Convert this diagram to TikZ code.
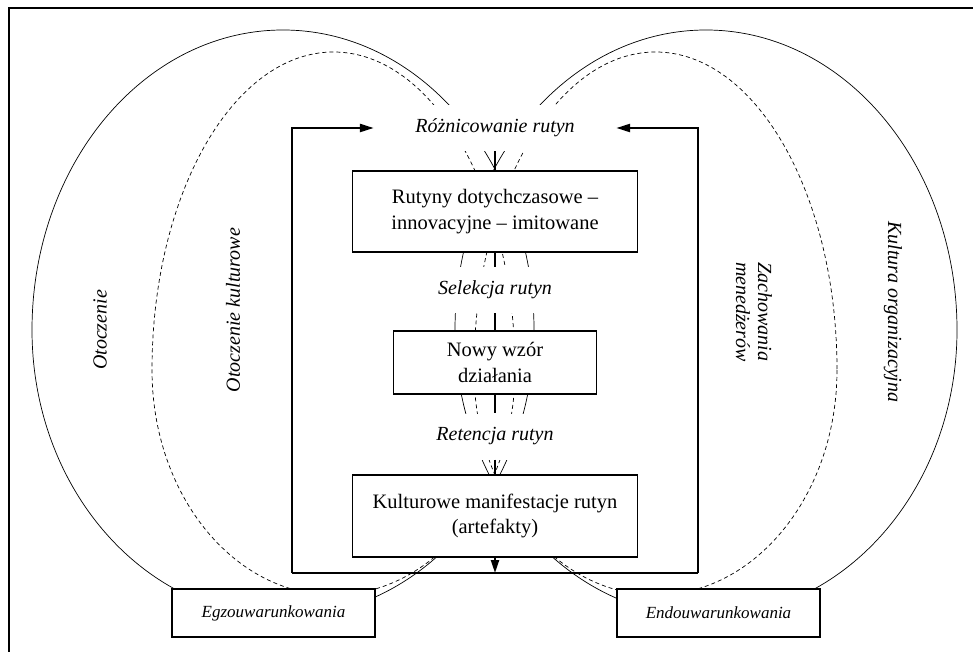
\documentclass[tikz,border=0pt]{standalone}
\usepackage{fontspec}
\setmainfont{Liberation Serif}
\usetikzlibrary{arrows.meta,positioning,calc}
\tikzset{
    curve/.style={line width=0.7pt},
    dashcurve/.style={line width=0.7pt, dash pattern=on 4pt off 3pt},
    box/.style={draw=black, line width=1.2pt, fill=white, align=center, inner sep=0pt,
        font=\fontsize{20.5}{25.5}\selectfont},
    sidebox/.style={draw=black, line width=1.2pt, fill=white, inner sep=0pt,
        minimum width=203pt, minimum height=48pt, font=\fontsize{17}{21}\selectfont\itshape},
    stage/.style={fill=white, inner sep=0pt, minimum height=46pt,
        font=\fontsize{20}{24}\selectfont\itshape},
    sidelabel/.style={align=center, font=\fontsize{20}{22}\selectfont\itshape},
    loopline/.style={line width=2.4pt},
    spine/.style={line width=2.2pt},
}

\begin{document}
\begin{tikzpicture}[x=1pt, y=-1pt]
    \useasboundingbox (0,0) rectangle (973,652);

    % frame
    \draw[line width=1.1pt] (9,652) -- (9,8) -- (973,8);

    % solid and dashed ovals
    \draw[curve] (534,330) arc[start angle=0, end angle=180, x radius=251, y radius=287]
        arc[start angle=180, end angle=360, x radius=251, y radius=300];
    \draw[curve] (957,330) arc[start angle=0, end angle=180, x radius=251, y radius=287]
        arc[start angle=180, end angle=360, x radius=251, y radius=300];
    \draw[dashcurve] (515,370) arc[start angle=0, end angle=180, x radius=181.5, y radius=225]
        arc[start angle=180, end angle=360, x radius=181.5, y radius=318];
    \draw[dashcurve] (837,370) arc[start angle=0, end angle=180, x radius=181.5, y radius=225]
        arc[start angle=180, end angle=360, x radius=181.5, y radius=318];

    \node[stage, minimum width=242pt] (roz) at (495,128) {Różnicowanie rutyn};
    \node[box, minimum width=285pt, minimum height=81pt] (rutyny) at (495,211.5)
        {Rutyny dotychczasowe –\\innovacyjne – imitowane};
    \node[stage] (sel) at ($(rutyny)+(0,78.5)$) {Selekcja rutyn};
    \node[box, minimum width=203pt, minimum height=63pt] (nowy) at (495,362.5)
        {Nowy wzór\\działania};
    \node[stage] (ret) at ($(nowy)+(0,74)$) {Retencja rutyn};
    \node[box, minimum width=285pt, minimum height=82pt] (kult) at (495,516)
        {Kulturowe manifestacje rutyn\\(artefakty)};

    \node[sidebox] (egzo) at (273.5,613) {Egzouwarunkowania};
    \node[sidebox] (endo) at (718.5,613) {Endouwarunkowania};

    \node[sidelabel, rotate=90] (otocz) at (100,330) {Otoczenie};
    \node[sidelabel, rotate=90] (otkult) at (233,310) {Otoczenie kulturowe};
    \node[sidelabel, rotate=-90] (zach) at (754,312) {Zachowania\\menedżerów};
    \node[sidelabel, rotate=-90] (kultorg) at (893,312) {Kultura organizacyjna};

    % central chain
    \draw[spine] (roz) -- (rutyny);
    \draw[spine] (rutyny) -- (sel);
    \draw[spine] (sel) -- (nowy);
    \draw[spine] (nowy) -- (ret);
    \draw[spine] (ret) -- (kult);

    % feedback loop
    \coordinate (bl) at (292,573);
    \coordinate (br) at (698,573);
    \coordinate (bot) at (495,573);
    \draw[spine, -{Triangle[length=13pt, width=8pt]}] (kult) -- (bot);
    \draw[loopline] (bl) -- (br);
    \draw[loopline, -{Triangle[length=14pt, width=8pt]}] (bl) |- (roz.west);
    \draw[loopline, -{Triangle[length=14pt, width=8pt]}] (br) |- (roz.east);
\end{tikzpicture}
\end{document}
